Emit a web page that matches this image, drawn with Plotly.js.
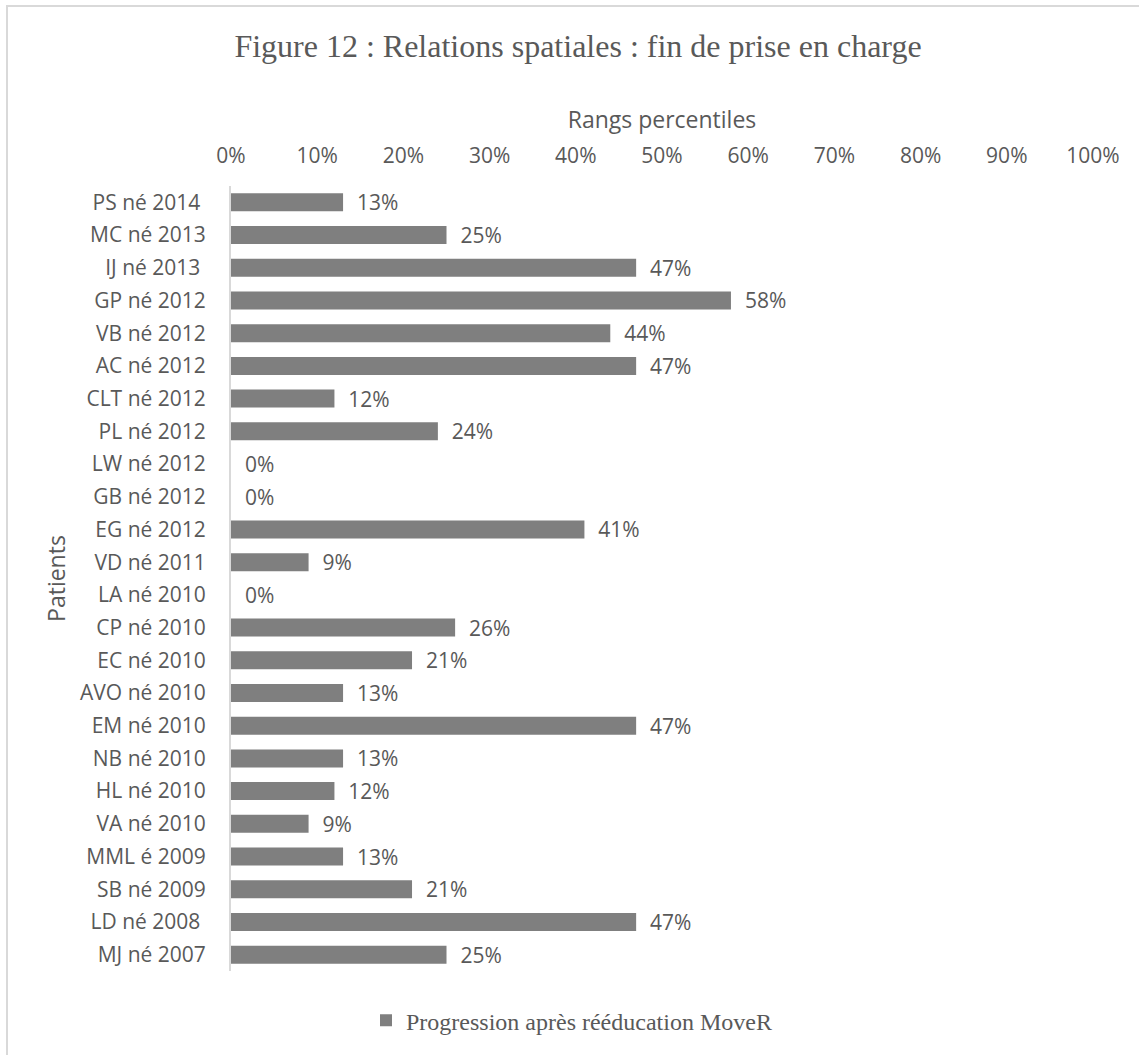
<!DOCTYPE html>
<html>
<head>
<meta charset="utf-8">
<script src="https://cdn.plot.ly/plotly-3.0.1.min.js"></script>
<style>
  html, body { margin: 0; padding: 0; background: #fff; overflow: hidden; }
  #wrap { position: relative; width: 1139px; height: 1055px; }
  #chart { position: absolute; left: 0; top: 0; width: 1139px; height: 1055px; }
  #frame { position: absolute; left: 6px; top: 5px; width: 3000px; height: 3000px;
           border-left: 2px solid #d9d9d9; border-top: 2px solid #d9d9d9; pointer-events: none; }
</style>
</head>
<body>
<div id="wrap">
  <div id="chart"></div>
  <div id="frame"></div>
</div>
<script>
const NB = '\u00a0';
const patients = [
  'PS né 2014' + NB, 'MC né 2013', 'IJ né 2013' + NB, 'GP né 2012', 'VB né 2012', 'AC né 2012',
  'CLT né 2012', 'PL né 2012', 'LW né 2012', 'GB né 2012', 'EG né 2012', 'VD né 2011',
  'LA né 2010', 'CP né 2010', 'EC né 2010', 'AVO né 2010', 'EM né 2010', 'NB né 2010',
  'HL né 2010', 'VA né 2010', 'MML é 2009', 'SB né 2009', 'LD né 2008' + NB, 'MJ né 2007'
];
const progression = [
  0.13, 0.25, 0.47, 0.58, 0.44, 0.47,
  0.12, 0.24, 0.00, 0.00, 0.41, 0.09,
  0.00, 0.26, 0.21, 0.13, 0.47, 0.13,
  0.12, 0.09, 0.13, 0.21, 0.47, 0.25
];
const seriesName = 'Progression après rééducation MoveR';
const xTickVals = [0, 0.1, 0.2, 0.3, 0.4, 0.5, 0.6, 0.7, 0.8, 0.9, 1.0];
const xTickText = ['0%', '10%', '20%', '30%', '40%', '50%', '60%', '70%', '80%', '90%', '100%'];

const grey = '#595959';
const sans = 'Open Sans, sans-serif';
const serif = 'Liberation Serif, Times New Roman, serif';

const trace = {
  type: 'bar',
  orientation: 'h',
  y: patients,
  x: progression,
  name: seriesName,
  marker: { color: '#7f7f7f', line: { width: 0 } },
  text: progression.map(v => NB + NB + Math.round(v * 100) + '%'),
  texttemplate: '%{text}',
  textposition: 'outside',
  textfont: { family: sans, size: 21, color: grey },
  constraintext: 'none',
  cliponaxis: false,
  hoverinfo: 'x+y',
  showlegend: true
};

const layout = {
  width: 1139,
  height: 1055,
  margin: { l: 231, r: 46, t: 186, b: 84, pad: 0 },
  paper_bgcolor: '#ffffff',
  plot_bgcolor: '#ffffff',
  font: { family: sans, size: 21, color: grey },
  bargap: 0.45,
  title: {
    text: 'Figure 12 : Relations spatiales : fin de prise en charge',
    font: { family: serif, size: 32, color: grey },
    xref: 'container', x: 578 / 1139, xanchor: 'center',
    yref: 'container', y: 1 - 45.5 / 1055, yanchor: 'middle'
  },
  xaxis: {
    side: 'top',
    range: [0, 1],
    tickvals: xTickVals,
    ticktext: xTickText,
    showgrid: false,
    zeroline: false,
    showline: false,
    ticks: '',
    ticklabelstandoff: 18,
    tickfont: { family: sans, size: 21, color: grey },
    title: { text: 'Rangs percentiles', font: { family: sans, size: 23, color: grey }, standoff: 5 },
    fixedrange: true
  },
  yaxis: {
    type: 'category',
    autorange: 'reversed',
    showgrid: false,
    zeroline: false,
    showline: true,
    linecolor: '#d9d9d9',
    linewidth: 2,
    ticks: '',
    ticklabelstandoff: 19,
    tickfont: { family: sans, size: 21, color: grey },
    title: { text: 'Patients', font: { family: sans, size: 23, color: grey }, standoff: 8 },
    fixedrange: true
  },
  showlegend: true,
  legend: {
    orientation: 'h',
    xref: 'paper', x: (571.5 - 231) / 862, xanchor: 'center',
    yref: 'paper', y: (971 - 1020.7) / 785, yanchor: 'middle',
    font: { family: serif, size: 24, color: grey },
    bgcolor: 'rgba(0,0,0,0)',
    borderwidth: 0
  }
};

Plotly.newPlot('chart', [trace], layout, { displayModeBar: false, staticPlot: true });
</script>
</body>
</html>
